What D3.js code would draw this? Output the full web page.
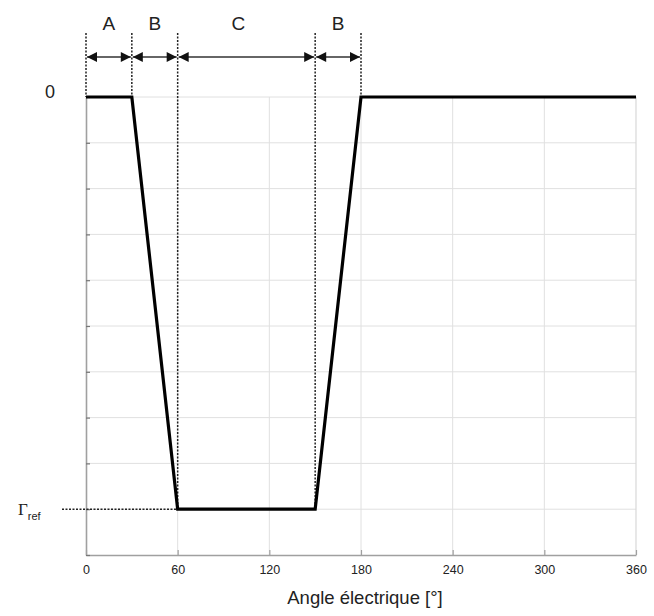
<!DOCTYPE html>
<html><head><meta charset="utf-8">
<script src="https://cdn.jsdelivr.net/npm/d3@7"></script>
<style>body{margin:0;background:#fff}svg{display:block}</style>
</head><body>
<script>
// Data
const angles = [0, 30, 60, 150, 180, 360];
const values = [0, 0, -9, -9, 0, 0];
const xTicks = [0, 60, 120, 180, 240, 300, 360];
const yGrid = [-10, -9, -8, -7, -6, -5, -4, -3, -2, -1, 0];
const gammaRef = -9;
const segStarts = [0, 30, 60, 150];
const segEnds = [30, 60, 150, 180];
const segLabels = ["A", "B", "C", "B"];
const xTitle = "Angle électrique [°]";

const W = 654, H = 616;
const m = {left: 86, right: 18, top: 97, bottom: 61};
const svg = d3.select("body").append("svg").attr("width", W).attr("height", H);
const font = "'Liberation Sans', Arial, Helvetica, sans-serif";

const x = d3.scaleLinear().domain([0, 360]).range([m.left, W - m.right]);
const y = d3.scaleLinear().domain([-10, 0]).range([H - m.bottom, m.top]);

// grid
const g = svg.append("g");
g.selectAll(".vg").data(xTicks.slice(1, -1)).join("line")
  .attr("x1", d => x(d)).attr("x2", d => x(d))
  .attr("y1", y(-10)).attr("y2", y(0))
  .attr("stroke", "#e0e0e0").attr("stroke-width", 1);
g.selectAll(".hg").data(yGrid.slice(1)).join("line")
  .attr("x1", x(0)).attr("x2", x(360))
  .attr("y1", d => y(d)).attr("y2", d => y(d))
  .attr("stroke", "#e0e0e0").attr("stroke-width", 1);

// right border
svg.append("line").attr("x1", x(360)).attr("x2", x(360)).attr("y1", y(0)).attr("y2", y(-10))
  .attr("stroke", "#d8d8d8").attr("stroke-width", 1.2);

// bottom axis
const xAxis = d3.axisBottom(x).tickValues(xTicks).tickSize(-5).tickPadding(10).tickSizeOuter(0);
const xa = svg.append("g").attr("transform", `translate(0,${y(-10)})`).call(xAxis);
xa.select(".domain").attr("stroke", "#a0a0a0").attr("stroke-width", 1.6);
xa.selectAll(".tick line").attr("stroke", "#a0a0a0").attr("stroke-width", 1.2);
xa.selectAll(".tick text").attr("font-family", font).attr("font-size", 12.5).attr("fill", "#222");

// left axis
const yAxis = d3.axisLeft(y).tickValues(yGrid).tickSize(-4).tickFormat("").tickSizeOuter(0);
const ya = svg.append("g").attr("transform", `translate(${x(0)},0)`).call(yAxis);
ya.select(".domain").attr("stroke", "#a0a0a0").attr("stroke-width", 1.6);
ya.selectAll(".tick line").attr("stroke", "#777").attr("stroke-width", 1.2);

// x title
svg.append("text").attr("x", (x(0) + x(360)) / 2 + 4).attr("y", 604)
  .attr("text-anchor", "middle").attr("font-family", font).attr("font-size", 18.5)
  .attr("fill", "#222").text(xTitle);

// dotted guide lines
const dotted = {stroke: "#222", "stroke-width": 1.5, "stroke-dasharray": "2,1.5"};
const vals = angles.map((a, i) => ({a, v: values[i]}));
const boundaries = [0, 30, 60, 150, 180];
svg.selectAll(".vd").data(boundaries).join("line")
  .attr("x1", d => x(d)).attr("x2", d => x(d))
  .attr("y1", 33)
  .attr("y2", d => y(values[angles.indexOf(d)]))
  .each(function(){ const s = d3.select(this); for (const k in dotted) s.attr(k, dotted[k]); });
svg.append("line").attr("x1", 62).attr("x2", x(60)).attr("y1", y(gammaRef)).attr("y2", y(gammaRef))
  .each(function(){ const s = d3.select(this); for (const k in dotted) s.attr(k, dotted[k]); });

// arrows
const defs = svg.append("defs");
defs.append("marker").attr("id", "ah").attr("viewBox", "0 0 10 10").attr("refX", 10).attr("refY", 5)
  .attr("markerWidth", 12).attr("markerHeight", 10).attr("markerUnits", "userSpaceOnUse").attr("orient", "auto-start-reverse")
  .append("path").attr("d", "M0,0 L10,5 L0,10 Z").attr("fill", "#111");
const ay = 57;
svg.selectAll(".arr").data(segStarts).join("line")
  .attr("x1", d => x(d) + 1).attr("x2", (d, i) => x(segEnds[i]) - 1)
  .attr("y1", ay).attr("y2", ay)
  .attr("stroke", "#333").attr("stroke-width", 1.5)
  .attr("marker-start", "url(#ah)").attr("marker-end", "url(#ah)");
svg.selectAll(".seglab").data(segLabels).join("text")
  .attr("x", (d, i) => x((segStarts[i] + segEnds[i]) / 2) - (d === "C" ? 8 : 0))
  .attr("y", 30).attr("text-anchor", "middle")
  .attr("font-family", font).attr("font-size", 19).attr("fill", "#222").text(d => d);

// main line
const line = d3.line().x(d => x(d.a)).y(d => y(d.v));
svg.append("path").datum(vals).attr("d", line).attr("fill", "none")
  .attr("stroke", "#000").attr("stroke-width", 3.2).attr("stroke-linejoin", "miter");

// y labels
svg.append("text").attr("x", 50).attr("y", 98).attr("text-anchor", "middle")
  .attr("font-family", font).attr("font-size", 18).attr("fill", "#222").text("0");
const gt = svg.append("text").attr("x", 18).attr("y", y(gammaRef) + 6)
  .attr("font-family", "'Liberation Serif', 'Times New Roman', serif").attr("font-size", 17).attr("fill", "#222");
gt.append("tspan").text("Γ");
gt.append("tspan").attr("dy", 5).attr("font-family", font).attr("font-size", 11).text("ref");
</script>
</body></html>
